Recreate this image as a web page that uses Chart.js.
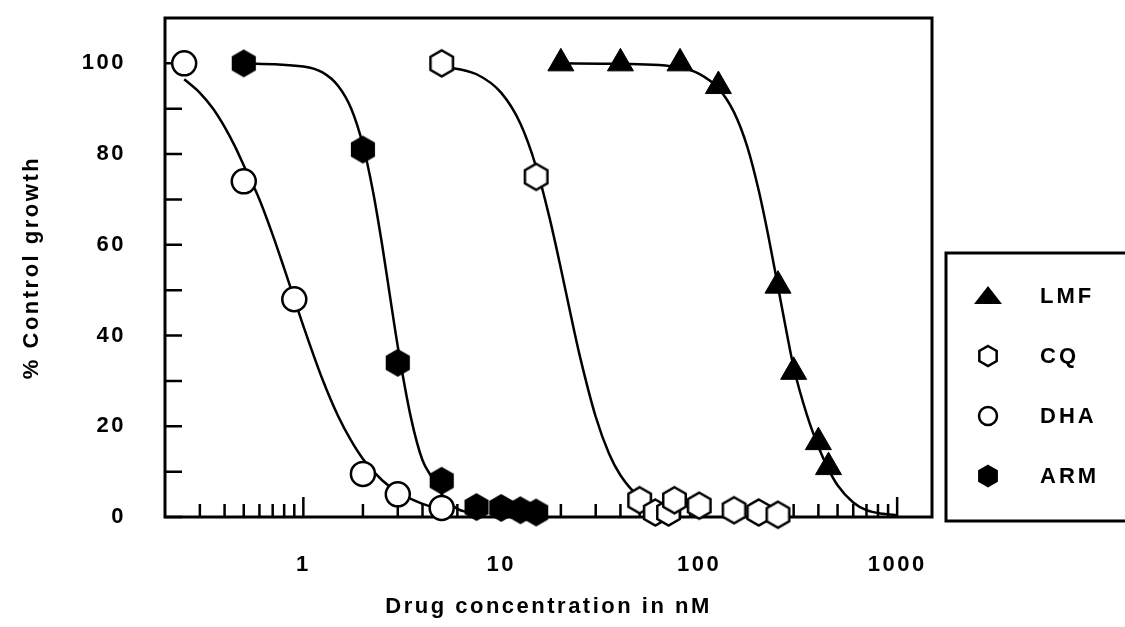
<!DOCTYPE html>
<html>
<head>
<meta charset="utf-8">
<script src="https://cdn.jsdelivr.net/npm/chart.js@4.4.0/dist/chart.umd.min.js"></script>
<style>
html, body { margin: 0; padding: 0; background: #fff; }
#wrap { width: 1125px; height: 627px; }
</style>
</head>
<body>
<div id="wrap"><canvas id="myChart" width="1125" height="627"></canvas></div>
<script>
// measured points (x in nM, y in % control growth)
var lmfX = [20, 40, 80, 125, 250, 300, 400, 450];
var lmfY = [100, 100, 100, 95, 51, 32, 16.5, 11];
var cqX = [5, 15, 50, 60, 70, 75, 100, 150, 200, 250];
var cqY = [100, 75, 3.7, 1, 1, 3.7, 2.5, 1.5, 1, 0.5];
var dhaX = [0.25, 0.5, 0.9, 2, 3, 5];
var dhaY = [100, 74, 48, 9.5, 5, 2];
var armX = [0.5, 2, 3, 5, 7.5, 10, 12.5, 15];
var armY = [100, 81, 34, 8, 2.2, 2, 1.5, 1];

// fitted curves
var lmfCurveX = [20, 40, 80, 100, 125, 150, 175, 200, 225, 250, 275, 300, 350, 400, 450, 500, 600, 700, 850, 1000];
var lmfCurveY = [100, 99.9, 99.1, 97.7, 94.5, 89.2, 81.6, 71.9, 61.3, 50.8, 41.2, 33, 22.5, 15.5, 10.5, 7, 3.2, 1.5, 0.7, 0.4];
var cqCurveX = [5, 7.5, 10, 12.5, 15, 17.5, 20, 22.5, 25, 30, 35, 40, 50, 60, 80];
var cqCurveY = [99.4, 97.6, 93.5, 86.7, 77.2, 66.1, 54.8, 44.3, 35.3, 22.1, 14, 9.2, 4.3, 2.3, 0.8];
var dhaCurveX = [0.25, 0.3, 0.35, 0.4, 0.45, 0.5, 0.6, 0.7, 0.8, 0.9, 1, 1.25, 1.5, 1.75, 2, 2.5, 3, 4, 5];
var dhaCurveY = [96.5, 93.5, 90, 86, 81.8, 77.5, 70, 62.2, 54.8, 48.1, 42.1, 30.3, 22.2, 16.7, 12.8, 8.1, 5.5, 2.9, 1.8];
var armCurveX = [0.5, 1, 1.25, 1.5, 1.75, 2, 2.25, 2.5, 2.75, 3, 3.5, 4, 4.5, 5, 6, 7];
var armCurveY = [100, 99.3, 98, 95, 89.9, 82, 71.7, 60, 48.2, 37.6, 21.8, 12.5, 8.5, 5, 1.8, 0.9];

// axis ticks
var xLabelTicks = [1, 10, 100, 1000];
var xMinorTicks = [0.3, 0.4, 0.5, 0.6, 0.7, 0.8, 0.9, 2, 3, 4, 5, 6, 7, 8, 9,
                   20, 30, 40, 50, 60, 70, 80, 90, 200, 300, 400, 500, 600, 700, 800, 900];
var yLabelTicks = [0, 20, 40, 60, 80, 100];
var yMinorTicks = [10, 30, 50, 70, 90];

var legendNames = ['LMF', 'CQ', 'DHA', 'ARM'];

function pts(xs, ys) {
    return xs.map(function (x, i) { return { x: x, y: ys[i] }; });
}

// pointy-top hexagon as a point style
function hexagon(r, fill) {
    var c = document.createElement('canvas');
    var s = Math.ceil(2 * r + 5);
    c.width = s; c.height = s;
    var g = c.getContext('2d');
    hexPath(g, s / 2, s / 2, r);
    g.fillStyle = fill;
    g.fill();
    g.lineWidth = 2.5;
    g.strokeStyle = '#000';
    g.stroke();
    return c;
}
function hexPath(g, cx, cy, r) {
    g.beginPath();
    for (var i = 0; i < 6; i++) {
        var a = (-90 + 60 * i) * Math.PI / 180;
        var px = cx + r * Math.cos(a), py = cy + r * Math.sin(a);
        if (i === 0) g.moveTo(px, py); else g.lineTo(px, py);
    }
    g.closePath();
}

var hexOpen = hexagon(13, '#fff');
var hexFull = hexagon(12.5, '#000');

function curve(xs, ys) {
    return {
        data: pts(xs, ys),
        showLine: true,
        borderColor: '#000',
        borderWidth: 2.5,
        pointRadius: 0,
        fill: false,
        cubicInterpolationMode: 'monotone',
        order: 2
    };
}

var fontBold = { family: '"Liberation Sans", Arial, sans-serif', size: 22, weight: 'bold' };

// frame, inward ticks and the legend box
var framePlugin = {
    id: 'frame',
    beforeDraw: function (chart) {
        chart.ctx.letterSpacing = '2.5px';
    },
    beforeDatasetsDraw: function (chart) {
        var ctx = chart.ctx, a = chart.chartArea;
        var xs = chart.scales.x, ys = chart.scales.y;
        ctx.save();
        ctx.strokeStyle = '#000';
        ctx.lineWidth = 3;
        ctx.strokeRect(a.left, a.top, a.right - a.left, a.bottom - a.top);
        ctx.lineWidth = 2.5;
        ctx.beginPath();
        xMinorTicks.forEach(function (v) {
            var p = xs.getPixelForValue(v);
            ctx.moveTo(p, a.bottom); ctx.lineTo(p, a.bottom - 13);
        });
        xLabelTicks.forEach(function (v) {
            var p = xs.getPixelForValue(v);
            ctx.moveTo(p, a.bottom); ctx.lineTo(p, a.bottom - 20);
        });
        yLabelTicks.concat(yMinorTicks).forEach(function (v) {
            var p = ys.getPixelForValue(v);
            ctx.moveTo(a.left, p); ctx.lineTo(a.left + 17, p);
        });
        ctx.stroke();
        ctx.restore();
    },
    afterDraw: function (chart) {
        var ctx = chart.ctx;
        ctx.save();
        ctx.strokeStyle = '#000';
        ctx.lineWidth = 3;
        ctx.strokeRect(946, 253, 200, 268);
        var rows = [296, 356, 416, 476];
        var mx = 988;
        // LMF triangle
        ctx.fillStyle = '#000';
        ctx.beginPath();
        ctx.moveTo(mx, rows[0] - 10); ctx.lineTo(mx + 14, rows[0] + 8); ctx.lineTo(mx - 14, rows[0] + 8);
        ctx.closePath(); ctx.fill();
        // CQ open hexagon
        ctx.lineWidth = 2.5;
        hexPath(ctx, mx, rows[1], 10);
        ctx.fillStyle = '#fff'; ctx.fill(); ctx.stroke();
        // DHA open circle
        ctx.beginPath(); ctx.arc(mx, rows[2], 9, 0, Math.PI * 2);
        ctx.fill(); ctx.stroke();
        // ARM filled hexagon
        hexPath(ctx, mx, rows[3], 10);
        ctx.fillStyle = '#000'; ctx.fill(); ctx.stroke();
        ctx.font = 'bold 22px "Liberation Sans", Arial, sans-serif';
        ctx.letterSpacing = '3px';
        ctx.textBaseline = 'middle';
        ctx.textAlign = 'left';
        legendNames.forEach(function (n, i) { ctx.fillText(n, 1040, rows[i] + 1); });
        ctx.restore();
    }
};

var ctx = document.getElementById('myChart').getContext('2d');
var myChart = new Chart(ctx, {
    type: 'scatter',
    data: {
        datasets: [
            curve(lmfCurveX, lmfCurveY),
            curve(cqCurveX, cqCurveY),
            curve(dhaCurveX, dhaCurveY),
            curve(armCurveX, armCurveY),
            {
                label: 'LMF', data: pts(lmfX, lmfY), pointStyle: 'triangle', pointRadius: 15,
                pointBackgroundColor: '#000', pointBorderColor: '#000', pointBorderWidth: 1, clip: false, order: 1
            },
            {
                label: 'CQ', data: pts(cqX, cqY), pointStyle: hexOpen, clip: false, order: 1
            },
            {
                label: 'DHA', data: pts(dhaX, dhaY), pointStyle: 'circle', pointRadius: 12,
                pointBackgroundColor: '#fff', pointBorderColor: '#000', pointBorderWidth: 2.5, clip: false, order: 1
            },
            {
                label: 'ARM', data: pts(armX, armY), pointStyle: hexFull, clip: false, order: 1
            }
        ]
    },
    options: {
        responsive: false,
        animation: false,
        layout: { padding: { left: 0, top: 18, right: 193, bottom: 0 } },
        plugins: { legend: { display: false }, tooltip: { enabled: false } },
        scales: {
            x: {
                type: 'logarithmic',
                min: 0.2,
                max: 1500,
                grid: { display: false, drawTicks: false },
                border: { display: false },
                afterBuildTicks: function (s) { s.ticks = xLabelTicks.map(function (v) { return { value: v }; }); },
                afterFit: function (s) { s.height = 110; s.paddingLeft = 0; s.paddingRight = 0; },
                ticks: {
                    autoSkip: false, maxRotation: 0, padding: 35, color: '#000', font: fontBold,
                    callback: function (v) { return String(v); }
                },
                title: {
                    display: true, text: 'Drug concentration in nM', color: '#000', font: fontBold,
                    padding: { top: 0, bottom: 7 }
                }
            },
            y: {
                min: 0,
                max: 110,
                grid: { display: false, drawTicks: false },
                border: { display: false },
                afterBuildTicks: function (s) { s.ticks = yLabelTicks.map(function (v) { return { value: v }; }); },
                afterFit: function (s) { s.width = 165; s.paddingTop = 0; s.paddingBottom = 0; },
                ticks: { padding: 39, color: '#000', font: fontBold },
                title: {
                    display: true, text: '% Control growth', color: '#000', font: fontBold,
                    padding: { top: 19, bottom: 0 }
                }
            }
        }
    },
    plugins: [framePlugin]
});
</script>
</body>
</html>
